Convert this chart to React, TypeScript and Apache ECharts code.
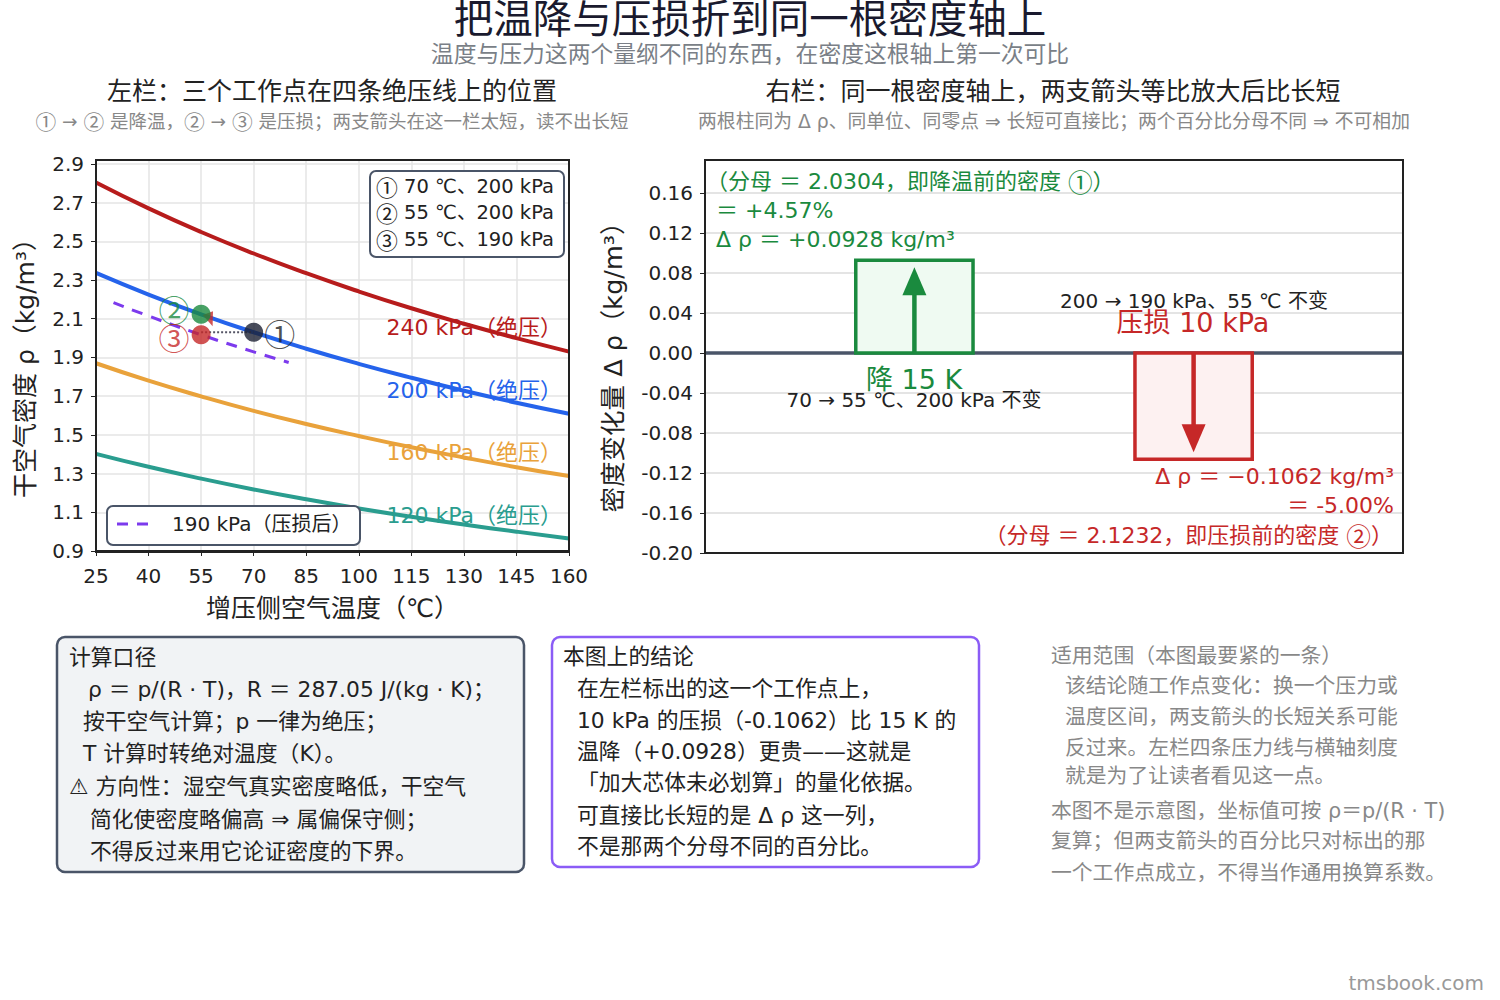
import React, { useEffect, useRef } from "react";
import * as echarts from "echarts";

const F = '"DejaVu Sans", "Noto Sans CJK SC", sans-serif';
const CJK = '"Noto Sans CJK SC", sans-serif';

// ---- Left panel data ----
const tempTicks = [25, 40, 55, 70, 85, 100, 115, 130, 145, 160];
const rho240 = [2.804, 2.670, 2.548, 2.437, 2.335, 2.241, 2.154, 2.074, 2.000, 1.930];
const rho200 = [2.337, 2.225, 2.123, 2.030, 1.945, 1.867, 1.795, 1.728, 1.666, 1.609];
const rho160 = [1.870, 1.780, 1.699, 1.624, 1.556, 1.494, 1.436, 1.383, 1.333, 1.287];
const rho120 = [1.402, 1.335, 1.274, 1.218, 1.167, 1.120, 1.077, 1.037, 1.000, 0.965];
const temp190 = [30, 40, 55, 70, 80];
const rho190 = [2.183, 2.114, 2.017, 1.929, 1.874];
const pointT = [70, 55, 55];
const pointRho = [2.0304, 2.1233, 2.0171];
const pointNames = ["①", "②", "③"];
const curveNames = ["240 kPa（绝压）", "200 kPa（绝压）", "160 kPa（绝压）", "120 kPa（绝压）"];

// ---- Right panel data ----
const deltaPos = [0, 1];
const deltaRho = [0.0928, -0.1062];

const RED_LINE = "#b71c1c";
const BLUE = "#2563eb";
const ORANGE = "#e9a23b";
const TEAL = "#2a9d8f";
const PURPLE = "#7c3aed";
const GREEN = "#1a8a3e";
const RED = "#c62828";
const NAVY = "#1c2033";
const DARK = "#222222";
const GRAY = "#888888";

const CIRC = /([①②③])/g;

const T = (text: string, x: number, y: number, size: number, color: string, align = "left", extra: any = {}) => {
  const style: any = { text, fill: color, fontSize: size, fontFamily: F, align, verticalAlign: "middle" };
  if (/[①②③]/.test(text)) {
    style.text = text.replace(CIRC, "{c|$1}");
    style.rich = { c: { fontFamily: CJK, fontSize: size * 1.12, fill: color, verticalAlign: "middle" } };
  }
  return { type: "text", x, y, z: 100, ...extra, style };
};

const box1Lines: [string, number, number][] = [
  ["计算口径", 69, 657],
  ["ρ ＝ p/(R · T)，R ＝ 287.05 J/(kg · K)；", 88, 689],
  ["按干空气计算；p 一律为绝压；", 83, 721],
  ["T 计算时转绝对温度（K）。", 83, 753],
  ["⚠ 方向性：湿空气真实密度略低，干空气", 69, 786],
  ["简化使密度略偏高 ⇒ 属偏保守侧；", 90, 819],
  ["不得反过来用它论证密度的下界。", 90, 851],
];
const box2Lines: [string, number, number][] = [
  ["本图上的结论", 563, 656],
  ["在左栏标出的这一个工作点上，", 577, 688],
  ["10 kPa 的压损（-0.1062）比 15 K 的", 577, 720],
  ["温降（+0.0928）更贵——这就是", 577, 751],
  ["「加大芯体未必划算」的量化依据。", 577, 782],
  ["可直接比长短的是 Δ ρ 这一列，", 577, 815],
  ["不是那两个分母不同的百分比。", 577, 846],
];
const noteLines: [string, number, number][] = [
  ["适用范围（本图最要紧的一条）", 1051, 656],
  ["该结论随工作点变化：换一个压力或", 1065, 686],
  ["温度区间，两支箭头的长短关系可能", 1065, 717],
  ["反过来。左栏四条压力线与横轴刻度", 1065, 748],
  ["就是为了让读者看见这一点。", 1065, 776],
  ["本图不是示意图，坐标值可按 ρ＝p/(R · T)", 1051, 811],
  ["复算；但两支箭头的百分比只对标出的那", 1051, 841],
  ["一个工作点成立，不得当作通用换算系数。", 1051, 873],
];

export default function App() {
  const ref = useRef<HTMLDivElement>(null);
  useEffect(() => {
    if (!ref.current) return;
    const chart = echarts.init(ref.current, null, { renderer: "svg" });
    const BAR_W = 0.42;
    const axisLabelStyle = { color: DARK, fontSize: 20, fontFamily: F };
    const curveSeries = [rho240, rho200, rho160, rho120].map((arr, i) => ({
      type: "line",
      xAxisIndex: 0,
      yAxisIndex: 0,
      smooth: true,
      symbol: "none",
      data: tempTicks.map((t, k) => [t, arr[k]]),
      lineStyle: { color: [RED_LINE, BLUE, ORANGE, TEAL][i], width: 4 },
      z: 3,
    }));

    const option: any = {
      animation: false,
      backgroundColor: "#ffffff",
      textStyle: { fontFamily: F },
      grid: [
        { left: 96, top: 160, width: 473, height: 391 },
        { left: 705, top: 160, width: 698, height: 393 },
      ],
      xAxis: [
        {
          type: "value",
          gridIndex: 0,
          min: 25,
          max: 160,
          interval: 15,
          axisLine: { show: true, onZero: false, lineStyle: { color: DARK, width: 2 } },
          axisTick: { show: true, length: 5, lineStyle: { color: DARK } },
          axisLabel: { ...axisLabelStyle, margin: 15 },
          splitLine: { show: true, lineStyle: { color: "#e4e4e4", width: 1.5 } },
          name: "增压侧空气温度（℃）",
          nameLocation: "middle",
          nameGap: 45,
          nameTextStyle: { color: DARK, fontSize: 25, fontFamily: F },
        },
        {
          type: "value",
          gridIndex: 1,
          min: -0.75,
          max: 1.75,
          show: false,
        },
      ],
      yAxis: [
        {
          type: "value",
          gridIndex: 0,
          min: 0.9,
          max: 2.92,
          interval: 0.2,
          axisLine: { show: true, onZero: false, lineStyle: { color: DARK, width: 2 } },
          axisTick: { show: true, length: 5, lineStyle: { color: DARK } },
          axisLabel: { ...axisLabelStyle, margin: 12, showMaxLabel: false, formatter: (v: number) => v.toFixed(1) },
          splitLine: { show: true, lineStyle: { color: "#e4e4e4", width: 1.5 } },
        },
        {
          type: "value",
          gridIndex: 1,
          min: -0.2,
          max: 0.193,
          interval: 0.04,
          axisLine: { show: true, onZero: false, lineStyle: { color: DARK, width: 2 } },
          axisTick: { show: true, length: 5, lineStyle: { color: DARK } },
          axisLabel: { ...axisLabelStyle, margin: 12, showMaxLabel: false, formatter: (v: number) => v.toFixed(2) },
          splitLine: { show: true, lineStyle: { color: "#e4e4e4", width: 2 } },
        },
      ],
      series: [
        ...curveSeries,
        {
          type: "line",
          xAxisIndex: 0,
          yAxisIndex: 0,
          smooth: true,
          symbol: "none",
          data: temp190.map((t, k) => [t, rho190[k]]),
          lineStyle: { color: PURPLE, width: 3, type: [11, 9] },
          z: 4,
        },
        {
          type: "line",
          xAxisIndex: 0,
          yAxisIndex: 0,
          symbol: "none",
          data: [
            [pointT[2], pointRho[0]],
            [pointT[0], pointRho[0]],
          ],
          lineStyle: { color: "#556", width: 2, type: "dotted" },
          z: 5,
        },
        {
          type: "scatter",
          xAxisIndex: 0,
          yAxisIndex: 0,
          symbol: "triangle",
          symbolSize: [11, 14],
          symbolRotate: 200,
          data: [[57.6, 2.095]],
          itemStyle: { color: RED },
          z: 6,
        },
        {
          type: "scatter",
          xAxisIndex: 0,
          yAxisIndex: 0,
          symbolSize: 19,
          z: 7,
          data: pointT.map((t, i) => ({
            value: [t, pointRho[i]],
            itemStyle: { color: [NAVY, GREEN, RED][i] },
            label: {
              show: true,
              formatter: pointNames[i],
              position: i === 0 ? "right" : "left",
              distance: i === 0 ? 1 : 2,
              offset: i === 1 ? [0, -6] : i === 2 ? [0, 2] : [0, 0],
              color: [DARK, GREEN, RED][i],
              fontSize: 31,
              fontFamily: CJK,
            },
          })),
        },
        {
          type: "line",
          xAxisIndex: 1,
          yAxisIndex: 1,
          symbol: "none",
          data: [
            [-0.75, 0],
            [1.75, 0],
          ],
          lineStyle: { color: "#4a5568", width: 3.5 },
          z: 2,
        },
        {
          type: "custom",
          xAxisIndex: 1,
          yAxisIndex: 1,
          z: 5,
          data: deltaPos.map((p, i) => [p, deltaRho[i]]),
          renderItem: (params: any, api: any) => {
            const x = api.value(0);
            const v = api.value(1);
            const up = v > 0;
            const color = up ? GREEN : RED;
            const fill = up ? "#effaf2" : "#fdf1f1";
            const a = api.coord([x - BAR_W / 2, 0]);
            const b = api.coord([x + BAR_W / 2, v]);
            const base = api.coord([x, 0]);
            const tip = api.coord([x, v]);
            const dir = up ? -1 : 1;
            const tipY = tip[1] - dir * 7;
            const headLen = 28;
            const headW = 12;
            const headBase = tipY - dir * headLen;
            return {
              type: "group",
              children: [
                {
                  type: "rect",
                  shape: { x: a[0], y: Math.min(a[1], b[1]), width: b[0] - a[0], height: Math.abs(b[1] - a[1]) },
                  style: { fill, stroke: color, lineWidth: 3.5 },
                },
                {
                  type: "line",
                  shape: { x1: base[0], y1: base[1], x2: base[0], y2: headBase + dir * 2 },
                  style: { stroke: color, lineWidth: 4.5 },
                },
                {
                  type: "polygon",
                  shape: {
                    points: [
                      [base[0], tipY],
                      [base[0] - headW, headBase],
                      [base[0] + headW, headBase],
                    ],
                  },
                  style: { fill: color },
                },
              ],
            };
          },
        },
      ],
      graphic: [
        // plot frames
        { type: "rect", z: 60, shape: { x: 96, y: 160, width: 473, height: 392 }, style: { fill: "none", stroke: DARK, lineWidth: 2 } },
        { type: "rect", z: 60, shape: { x: 705, y: 160, width: 698, height: 393 }, style: { fill: "none", stroke: DARK, lineWidth: 2 } },
        // titles
        T("把温降与压损折到同一根密度轴上", 750, 19, 39.5, "#1a1a2e", "center"),
        T("温度与压力这两个量纲不同的东西，在密度这根轴上第一次可比", 750, 54, 22.8, "#7a7f87", "center"),
        T("左栏：三个工作点在四条绝压线上的位置", 332, 91, 25, DARK, "center"),
        T("① → ② 是降温，② → ③ 是压损；两支箭头在这一栏太短，读不出长短", 332, 121, 18.5, GRAY, "center"),
        T("右栏：同一根密度轴上，两支箭头等比放大后比长短", 1053, 91, 25, DARK, "center"),
        T("两根柱同为 Δ ρ、同单位、同零点 ⇒ 长短可直接比；两个百分比分母不同 ⇒ 不可相加", 1054, 121, 18.8, GRAY, "center"),
        // left y axis name
        T("干空气密度 ρ（kg/m³）", 25, 362, 25, DARK, "center", { rotation: Math.PI / 2 }),
        // right y axis name
        T("密度变化量 Δ ρ（kg/m³）", 613, 361, 25.5, DARK, "center", { rotation: Math.PI / 2 }),
        // curve labels
        T(curveNames[0], 562, 327, 22, RED_LINE, "right"),
        T(curveNames[1], 562, 390, 22, BLUE, "right"),
        T(curveNames[2], 562, 452, 22, ORANGE, "right"),
        T(curveNames[3], 562, 515, 22, TEAL, "right"),
        // top-right legend
        {
          type: "rect",
          z: 90,
          shape: { x: 370, y: 171, width: 194, height: 86, r: 6 },
          style: { fill: "#ffffff", stroke: "#4a5568", lineWidth: 2 },
        },
        T("① 70 ℃、200 kPa", 376, 186, 19.5, DARK),
        T("② 55 ℃、200 kPa", 376, 212, 19.5, DARK),
        T("③ 55 ℃、190 kPa", 376, 239, 19.5, DARK),
        // bottom-left legend
        {
          type: "rect",
          z: 90,
          shape: { x: 107, y: 506, width: 253, height: 39, r: 6 },
          style: { fill: "#ffffff", stroke: "#4a5568", lineWidth: 2 },
        },
        {
          type: "line",
          z: 100,
          shape: { x1: 117, y1: 524, x2: 156, y2: 524 },
          style: { stroke: PURPLE, lineWidth: 3, lineDash: [11, 9] },
        },
        T("190 kPa（压损后）", 172, 524, 20, DARK),
        // right panel annotations
        T("（分母 ＝ 2.0304，即降温前的密度 ①）", 706, 181, 22, GREEN),
        T("＝ +4.57%", 716, 210, 22, GREEN),
        T("Δ ρ ＝ +0.0928 kg/m³", 716, 239, 22, GREEN),
        T("降 15 K", 914, 379, 27, GREEN, "center"),
        T("70 → 55 ℃、200 kPa 不变", 914, 400, 20, DARK, "center"),
        T("200 → 190 kPa、55 ℃ 不变", 1194, 301, 20, DARK, "center"),
        T("压损 10 kPa", 1193, 322, 27, RED, "center"),
        T("Δ ρ ＝ −0.1062 kg/m³", 1394, 476, 22, RED, "right"),
        T("＝ -5.00%", 1394, 505, 22, RED, "right"),
        T("（分母 ＝ 2.1232，即压损前的密度 ②）", 1393, 535, 22, RED, "right"),
        // bottom boxes
        {
          type: "rect",
          z: 80,
          shape: { x: 57, y: 637, width: 467, height: 235, r: 8 },
          style: { fill: "#f1f3f5", stroke: "#4a5568", lineWidth: 2.5 },
        },
        ...box1Lines.map(([s, x, y]) => T(s, x, y, 21.8, DARK)),
        {
          type: "rect",
          z: 80,
          shape: { x: 552, y: 637, width: 427, height: 230, r: 8 },
          style: { fill: "#ffffff", stroke: "#8b5cf6", lineWidth: 2.5 },
        },
        ...box2Lines.map(([s, x, y]) => T(s, x, y, 21.8, DARK)),
        ...noteLines.map(([s, x, y]) => T(s, x, y, 20.8, GRAY)),
        T("tmsbook.com", 1484, 983, 20, "#999999", "right"),
      ],
    };
    chart.setOption(option);
    return () => chart.dispose();
  }, []);
  return <div ref={ref} style={{ position: "fixed", left: 0, top: 0, width: 1500, height: 1000, background: "#fff" }} />;
}
